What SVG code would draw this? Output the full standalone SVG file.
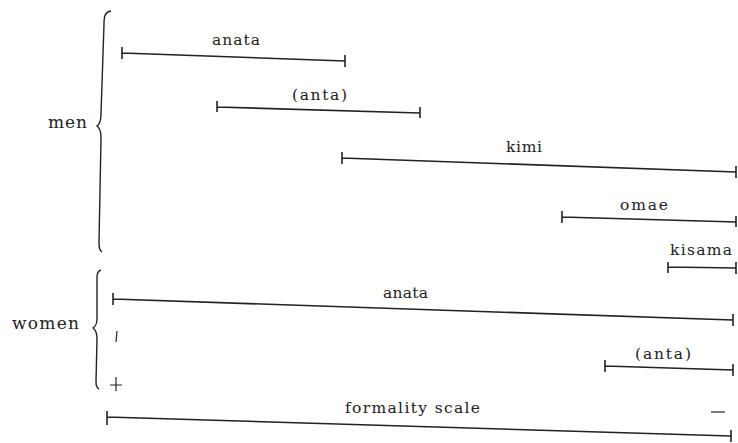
<svg xmlns="http://www.w3.org/2000/svg" width="738" height="443" viewBox="0 0 738 443">
<style>
text{font-family:"DejaVu Serif","Liberation Serif",serif;font-size:15.5px;fill:#222}
.g{font-size:17px}
.ln{stroke:#222;stroke-width:1.6;fill:none}
.br{stroke:#222;stroke-width:1.4;fill:none}
.mk{stroke:#222;stroke-width:1.2;fill:none}
</style>
<rect width="738" height="443" fill="#fff"/>
<g id="men">
<text class="g" x="48" y="128" textLength="39" lengthAdjust="spacing">men</text>
<path class="br" d="M111,11 C105,12 104,16 104,24 L101,114 C101,121 100,124 97,126 C100,128 101,131 101,138 L99,243 C99,249 100,251 102,252"/>
</g>
<g id="women">
<text class="g" x="12" y="329" textLength="67" lengthAdjust="spacing">women</text>
<path class="br" d="M101,270 C98,271 97,273 97,277 L97,318 C97,324 96,326 93,328 C96,330 97,333 97,339 L96,382 C96,386 97,388 99,389"/>
</g>
<g id="labels">
<text x="212" y="45" textLength="48" lengthAdjust="spacing">anata</text>
<text x="292" y="100" textLength="55" lengthAdjust="spacing">(anta)</text>
<text x="506" y="152" textLength="36" lengthAdjust="spacing">kimi</text>
<text x="620" y="210" textLength="48" lengthAdjust="spacing">omae</text>
<text x="670" y="255" textLength="62" lengthAdjust="spacing">kisama</text>
<text x="383" y="298" textLength="45" lengthAdjust="spacing">anata</text>
<text x="635" y="359" textLength="56" lengthAdjust="spacing">(anta)</text>
<text x="345" y="413" textLength="135" lengthAdjust="spacing">formality scale</text>
</g>
<g id="scale-marks">
<path class="mk" d="M117,331 L116,342"/>
<path class="mk" d="M116,377 V391 M110,385 H122"/>
<path class="mk" d="M711,412 H725"/>
</g>
<g id="connectors">
<path class="ln" d="M122,53 L345,61 M122,47 V59 M345,55 V67"/>
<path class="ln" d="M217,107 L420,113 M217,101 V112 M420,107 V118"/>
<path class="ln" d="M342,158 L736,172 M342,152 V164 M736,166 V178"/>
<path class="ln" d="M562,217 L736,222 M562,211 V223 M736,216 V227"/>
<path class="ln" d="M668,267 L736,268 M668,262 V273 M736,262 V274"/>
<path class="ln" d="M113,299 L733,320 M113,293 V305 M733,314 V326"/>
<path class="ln" d="M605,366 L733,370 M605,360 V372 M733,364 V376"/>
<path class="ln" d="M107,417 L731,436 M107,411 V425 M731,430 V442"/>
</g>
</svg>
